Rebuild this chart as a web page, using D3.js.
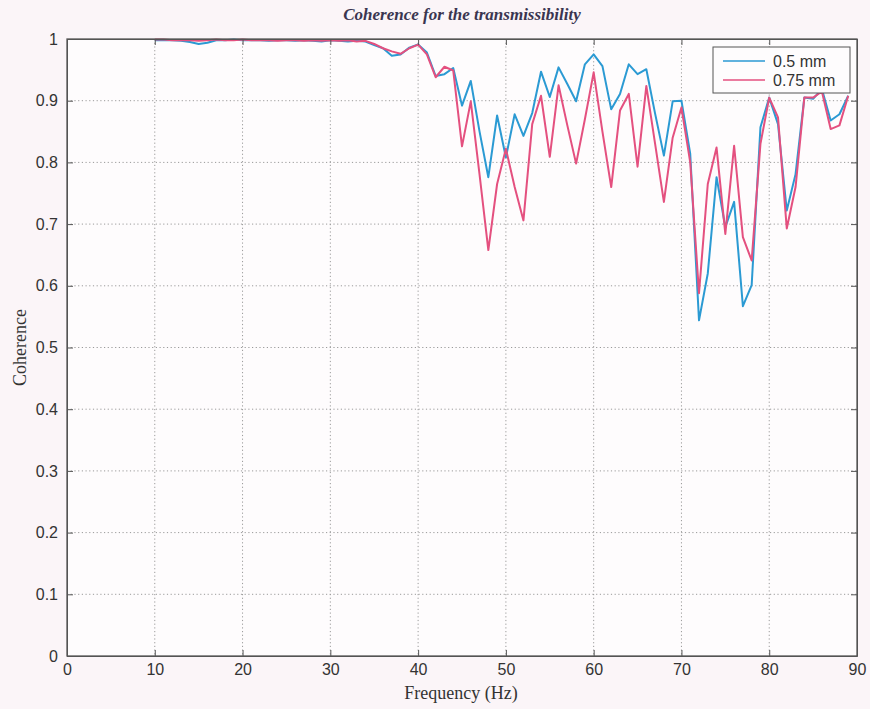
<script src="https://d3js.org/d3.v7.min.js"></script>
<style>
  body { margin: 0; background: #fbf5f8; }
  svg { display: block; }
  .tick text { font-family: "Liberation Sans", Arial, sans-serif; font-size: 16px; fill: #333; }
</style>
<div id="chart"></div>
<script>
  // frequency (Hz), one sample per Hz
  const freq = d3.range(10, 90);

  const coh05 = [
    0.998, 0.998, 0.998, 0.997, 0.995, 0.992, 0.994, 0.998, 0.998, 0.999,
    0.998, 0.998, 0.998, 0.997, 0.998, 0.998, 0.997, 0.998, 0.997, 0.996,
    0.998, 0.997, 0.996, 0.997, 0.996, 0.990, 0.985, 0.973, 0.975, 0.986,
    0.991, 0.978, 0.940, 0.943, 0.953, 0.892, 0.932, 0.850, 0.776, 0.876,
    0.808, 0.878, 0.843, 0.880, 0.947, 0.906, 0.954, 0.927, 0.899, 0.959,
    0.975, 0.956, 0.886, 0.911, 0.959, 0.943, 0.951, 0.879, 0.811, 0.899,
    0.900, 0.814, 0.544, 0.620, 0.776, 0.695, 0.736, 0.567, 0.601, 0.857,
    0.905, 0.862, 0.722, 0.781, 0.905, 0.903, 0.919, 0.868, 0.878, 0.908
  ];

  const coh075 = [
    0.999, 0.999, 0.998, 0.998, 0.998, 0.997, 0.998, 0.999, 0.998, 0.998,
    0.999, 0.998, 0.998, 0.998, 0.997, 0.998, 0.998, 0.997, 0.998, 0.997,
    0.998, 0.997, 0.998, 0.996, 0.997, 0.992, 0.985, 0.980, 0.976, 0.985,
    0.991, 0.975, 0.938, 0.955, 0.949, 0.826, 0.899, 0.780, 0.658, 0.765,
    0.822, 0.760, 0.706, 0.862, 0.908, 0.809, 0.925, 0.860, 0.798, 0.870,
    0.946, 0.850, 0.760, 0.884, 0.911, 0.793, 0.924, 0.830, 0.736, 0.840,
    0.889, 0.800, 0.588, 0.765, 0.824, 0.684, 0.827, 0.679, 0.641, 0.830,
    0.905, 0.873, 0.693, 0.760, 0.905, 0.905, 0.915, 0.854, 0.860, 0.908
  ];

  const xTicks = d3.range(0, 91, 10);
  const yTicks = d3.range(0, 11).map(d => d / 10);

  const series = [
    {name: "0.5 mm", values: coh05, color: "#2b9ad3"},
    {name: "0.75 mm", values: coh075, color: "#e4507f"}
  ];

  const width = 870, height = 709;
  const margin = {top: 39, right: 13, bottom: 53, left: 67};
  const w = width - margin.left - margin.right;
  const h = height - margin.top - margin.bottom;

  const svg = d3.select("#chart").append("svg")
    .attr("width", width)
    .attr("height", height);

  const g = svg.append("g")
    .attr("transform", `translate(${margin.left},${margin.top})`);

  const x = d3.scaleLinear().domain([0, 90]).range([0, w]);
  const y = d3.scaleLinear().domain([0, 1]).range([h, 0]);

  g.append("rect")
    .attr("width", w)
    .attr("height", h)
    .attr("fill", "#fefcfd");

  // dotted grid
  g.append("g")
    .selectAll("line")
    .data(xTicks.slice(1, -1))
    .join("line")
    .attr("x1", d => x(d)).attr("x2", d => x(d))
    .attr("y1", 0).attr("y2", h)
    .attr("stroke", "#9a9a9a")
    .attr("stroke-dasharray", "1.2,2.5");

  g.append("g")
    .selectAll("line")
    .data(yTicks.slice(1, -1))
    .join("line")
    .attr("y1", d => y(d)).attr("y2", d => y(d))
    .attr("x1", 0).attr("x2", w)
    .attr("stroke", "#9a9a9a")
    .attr("stroke-dasharray", "1.2,2.5");

  // lines
  const line = d3.line()
    .x((d, i) => x(freq[i]))
    .y(d => y(d));

  g.selectAll(".series")
    .data(series)
    .join("path")
    .attr("class", "series")
    .attr("fill", "none")
    .attr("stroke", d => d.color)
    .attr("stroke-width", 2)
    .attr("stroke-linejoin", "round")
    .attr("d", d => line(d.values));

  // axes, matlab style (ticks inside)
  g.append("g")
    .attr("transform", `translate(0,${h})`)
    .call(d3.axisBottom(x).tickValues(xTicks).tickSizeInner(-6).tickSizeOuter(0).tickPadding(8));
  g.append("g")
    .call(d3.axisLeft(y).tickValues(yTicks).tickFormat(d => d === 0 || d === 1 ? d : d.toFixed(1)).tickSizeInner(-6).tickSizeOuter(0).tickPadding(9));
  g.append("g")
    .call(d3.axisTop(x).tickValues(xTicks).tickSizeInner(-6).tickSizeOuter(0).tickFormat(""));
  g.append("g")
    .attr("transform", `translate(${w},0)`)
    .call(d3.axisRight(y).tickValues(yTicks).tickSizeInner(-6).tickSizeOuter(0).tickFormat(""));

  g.selectAll(".domain, .tick line").attr("stroke", "#555");

  g.append("rect")
    .attr("width", w)
    .attr("height", h)
    .attr("fill", "none")
    .attr("stroke", "#555")
    .attr("stroke-width", 1.3);

  // titles
  svg.append("text")
    .attr("x", margin.left + w / 2)
    .attr("y", 20)
    .attr("text-anchor", "middle")
    .style("font-family", "'Liberation Serif', 'DejaVu Serif', serif")
    .style("font-style", "italic")
    .style("font-weight", "bold")
    .style("font-size", "17px")
    .attr("fill", "#3a3550")
    .text("Coherence for the transmissibility");

  svg.append("text")
    .attr("x", margin.left + w / 2 - 1)
    .attr("y", 699)
    .attr("text-anchor", "middle")
    .style("font-family", "'Liberation Serif', serif")
    .style("font-size", "18px")
    .attr("fill", "#333")
    .text("Frequency (Hz)");

  svg.append("text")
    .attr("transform", `translate(26,${margin.top + h / 2}) rotate(-90)`)
    .attr("text-anchor", "middle")
    .style("font-family", "'Liberation Serif', serif")
    .style("font-size", "18px")
    .attr("fill", "#333")
    .text("Coherence");

  // legend
  const lg = g.append("g")
    .attr("transform", `translate(${w - 144},8)`);
  lg.append("rect")
    .attr("width", 137)
    .attr("height", 46)
    .attr("fill", "#fefcfd")
    .attr("stroke", "#555");
  series.forEach((s, i) => {
    const ly = 14 + i * 19;
    lg.append("line")
      .attr("x1", 10).attr("x2", 52)
      .attr("y1", ly).attr("y2", ly)
      .attr("stroke", s.color)
      .attr("stroke-width", 1.5);
    lg.append("text")
      .attr("x", 60)
      .attr("y", ly + 6)
      .style("font-family", "'Liberation Sans', Arial, sans-serif")
      .style("font-size", "16px")
      .attr("fill", "#333")
      .text(s.name);
  });
</script>
